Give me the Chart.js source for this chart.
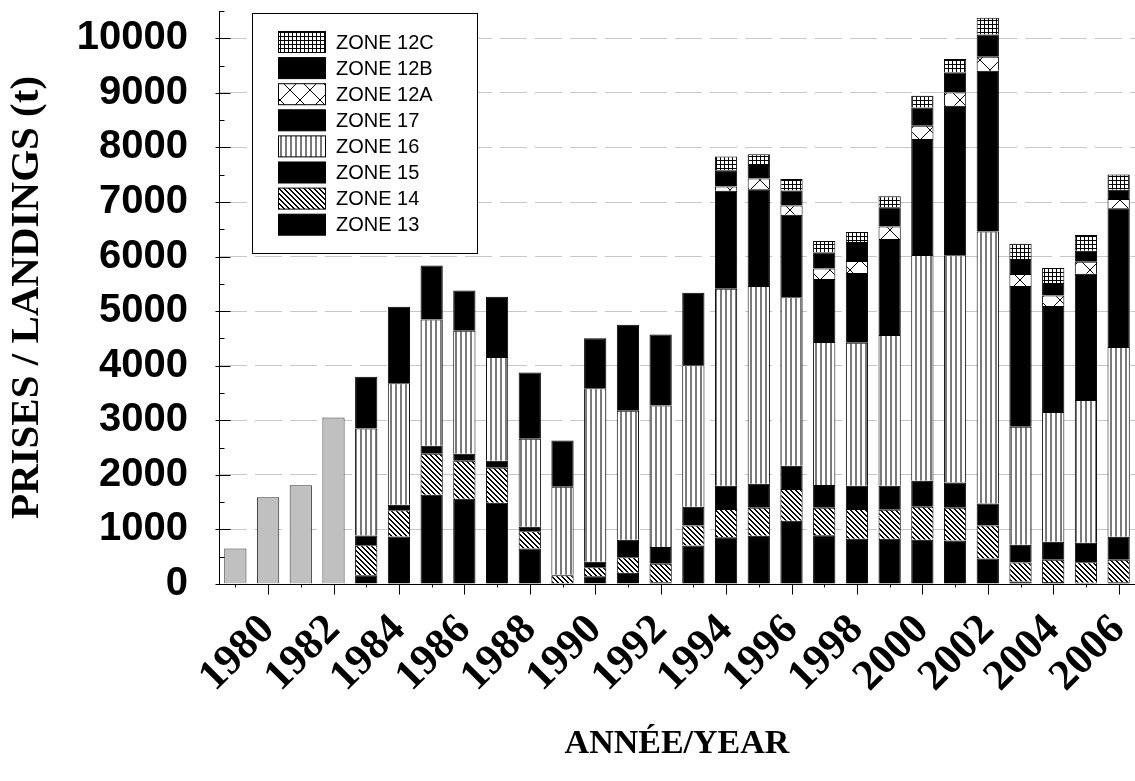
<!DOCTYPE html>
<html><head><meta charset="utf-8">
<script src="https://cdn.jsdelivr.net/npm/chart.js@4"></script>
<style>html,body{margin:0;padding:0;background:#fff;}#wrap{width:1135px;height:781px;position:relative;}</style>
</head><body><div id="wrap"><canvas id="c" width="1135" height="781"></canvas></div>
<script>
const years = ['1979','1980','1981','1982','1983','1984','1985','1986','1987','1988','1989','1990','1991','1992','1993','1994','1995','1996','1997','1998','1999','2000','2001','2002','2003','2004','2005','2006'];
const totalEarly = [650,1590,1810,3050,null,null,null,null,null,null,null,null,null,null,null,null,null,null,null,null,null,null,null,null,null,null,null,null];
const zone13 = [null,null,null,null,160,870,1635,1560,1490,650,20,140,205,30,705,855,885,1160,895,830,830,810,795,465,45,35,25,30];
const zone14 = [null,null,null,null,550,480,750,700,640,315,140,165,285,340,365,520,510,580,500,545,530,605,600,605,350,410,375,415];
const zone15 = [null,null,null,null,180,100,150,125,130,85,10,105,320,310,345,425,440,425,420,425,440,475,465,405,325,330,355,420];
const zone16 = [null,null,null,null,1960,2230,2310,2255,1900,1610,1610,3175,2365,2590,2595,3610,3625,3090,2620,2620,2765,4140,4165,4985,2160,2375,2615,3480];
const zone17 = [null,null,null,null,950,1400,990,740,1105,1215,850,920,1575,1300,1325,1795,1775,1510,1155,1280,1755,2125,2740,2945,2580,1945,2315,2540];
const zone12A = [null,null,null,null,null,null,null,null,null,null,null,null,null,null,null,80,195,170,190,220,230,240,240,255,220,190,220,170];
const zone12B = [null,null,null,null,null,null,null,null,null,null,null,null,null,null,null,295,250,275,295,345,355,335,370,410,275,230,200,170];
const zone12C = [null,null,null,null,null,null,null,null,null,null,null,null,null,null,null,255,195,210,210,185,200,215,245,305,280,275,290,280];
const yTickStep = 1000;
const yMax = 10500;

function tile(w, h, draw) {
  const c = document.createElement('canvas');
  c.width = w; c.height = h;
  const g = c.getContext('2d');
  g.fillStyle = '#fff'; g.fillRect(0, 0, w, h);
  g.fillStyle = '#000';
  draw(g, w, h);
  return g.createPattern(c, 'repeat');
}
const patDiag = tile(5, 5, (g, w) => { for (let i = 0; i < w; i++) { g.fillRect(i, i, 1, 1); g.fillRect((i + 1) % w, i, 1, 1); } });
const patVert = tile(5, 1, (g) => { g.fillStyle = '#7a7a7a'; g.fillRect(0, 0, 2, 1); });
const patGrid = tile(4, 4, (g) => { g.fillRect(0, 0, 4, 1); g.fillRect(0, 0, 1, 4); });
const patX = tile(20, 20, (g, w) => { for (let i = 0; i < w; i++) { g.fillRect(i, i, 1, 1); g.fillRect(w - 1 - i, i, 1, 1); } });

function ds(label, data, bg, border) {
  return { label, data, backgroundColor: bg, borderColor: border || '#000', borderWidth: 1, stack: 's' };
}
const datasets = [
  ds('TOTAL', totalEarly, '#c0c0c0', '#333'),
  ds('ZONE 13', zone13, '#000'),
  ds('ZONE 14', zone14, patDiag),
  ds('ZONE 15', zone15, '#000'),
  ds('ZONE 16', zone16, patVert),
  ds('ZONE 17', zone17, '#000'),
  ds('ZONE 12A', zone12A, patX),
  ds('ZONE 12B', zone12B, '#000'),
  ds('ZONE 12C', zone12C, patGrid)
];

const decor = {
  id: 'decor',
  afterDraw(chart) {
    const ctx = chart.ctx, xs = chart.scales.x, ys = chart.scales.y, a = chart.chartArea;
    ctx.save();
    ctx.strokeStyle = '#000'; ctx.lineWidth = 1;
    ctx.beginPath();
    const bx = Math.round(a.left) + 0.5, by = Math.round(a.bottom) + 0.5;
    ctx.moveTo(a.left, by); ctx.lineTo(a.right, by);
    for (let v = 0; v <= yMax; v += yTickStep / 2) {
      const py = Math.round(ys.getPixelForValue(v)) + 0.5;
      const major = v % yTickStep === 0;
      ctx.moveTo(major ? bx - 4 : bx, py);
      ctx.lineTo(bx + (major ? 11 : 5), py);
    }
    years.forEach((yr, i) => {
      const px = Math.round(xs.getPixelForValue(i)) + 0.5;
      const major = (+yr) % 2 === 0;
      ctx.moveTo(px, by); ctx.lineTo(px, by + (major ? 10 : 3));
    });
    ctx.stroke();
    // legend box
    const L = 252.5, T = 13.5, W = 225, H = 240;
    ctx.fillStyle = '#fff'; ctx.fillRect(L, T, W, H);
    ctx.strokeRect(L, T, W, H);
    const items = chart.data.datasets.slice(1).reverse();
    ctx.font = '20px "Liberation Sans", Arial, sans-serif';
    ctx.textBaseline = 'middle'; ctx.textAlign = 'left';
    items.forEach((d, i) => {
      const y0 = 31.5 + i * 26.1;
      ctx.fillStyle = d.backgroundColor;
      ctx.fillRect(278.5, y0, 47, 21);
      ctx.strokeStyle = '#000';
      ctx.strokeRect(278.5, y0, 47, 21);
      ctx.fillStyle = '#000';
      ctx.fillText(d.label, 336, y0 + 11.5);
    });
    ctx.restore();
  }
};

new Chart(document.getElementById('c'), {
  type: 'bar',
  data: { labels: years, datasets },
  plugins: [decor],
  options: {
    responsive: false,
    animation: false,
    devicePixelRatio: 1,
    events: [],
    layout: { padding: { top: 11, right: 0, left: 0, bottom: 0 } },
    plugins: { legend: { display: false }, tooltip: { enabled: false } },
    datasets: { bar: { categoryPercentage: 1, barPercentage: 0.68 } },
    scales: {
      x: {
        stacked: true,
        grid: { display: false, drawTicks: false },
        border: { display: true, color: '#000', width: 1 },
        ticks: {
          autoSkip: false, maxRotation: 45, minRotation: 45, padding: 21, color: '#000',
          font: { family: '"Liberation Serif", "Times New Roman", serif', size: 43, weight: 'bold' },
          callback: function (v) { const l = this.getLabelForValue(v); return (+l) % 2 === 0 ? l : ''; }
        },
        title: { display: true, text: 'ANNÉE/YEAR', color: '#000', padding: { top: 0, bottom: 16 },
          font: { family: '"Liberation Serif", "Times New Roman", serif', size: 34, weight: 'bold' } },
        afterFit(s) { s.height = 197; s.paddingLeft = 0; s.paddingRight = 0; }
      },
      y: {
        stacked: true,
        min: 0, max: yMax,
        grid: {
          drawTicks: false,
          color: (c) => (c.tick && c.tick.value > 0 && c.tick.value % yTickStep === 0 && c.tick.value < yMax) ? '#c8c8c8' : 'rgba(0,0,0,0)',
          lineWidth: 1
        },
        border: { display: true, color: '#000', width: 1, dash: [27, 8] },
        ticks: {
          stepSize: yTickStep / 2, padding: 31, color: '#000',
          font: { family: '"Liberation Sans", Arial, sans-serif', size: 40, weight: 'bold' },
          callback: (v) => (v % yTickStep === 0 ? String(v) : '')
        },
        title: { display: true, text: 'PRISES / LANDINGS (t)', color: '#000', padding: { top: 3, bottom: 0 },
          font: { family: '"Liberation Serif", "Times New Roman", serif', size: 41, weight: 'bold' } },
        afterFit(s) { s.width = 219; s.paddingTop = 0; s.paddingBottom = 0; }
      }
    }
  }
});
</script>
</body></html>
